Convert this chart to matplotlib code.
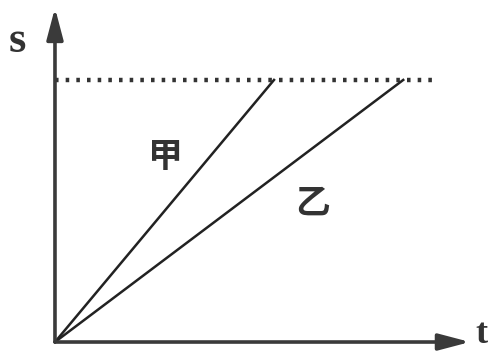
import matplotlib
matplotlib.use("Agg")
import matplotlib.pyplot as plt

# data (t at which each object reaches distance s_max)
s_max = 1.0
labels = ["甲", "乙"]
t_end = [1.0, 1.59]

fig = plt.figure(figsize=(4.88, 3.58), dpi=100)
ax = fig.add_axes([0, 0, 1, 1])
ax.set_xlim(-0.251, 1.977)
ax.set_ylim(-0.061, 1.305)
ax.axis("off")

# axes with arrows
style = "-|>,head_length=1.9,head_width=0.5"
ax.annotate("", xy=(1.895, 0), xytext=(0, 0),
            arrowprops=dict(arrowstyle=style, color="#3a3a3a", lw=2.6, shrinkA=0, shrinkB=0))
ax.annotate("", xy=(0, 1.275), xytext=(0, 0),
            arrowprops=dict(arrowstyle=style, color="#3a3a3a", lw=2.6, shrinkA=0, shrinkB=0))

# dotted level line
ax.plot([0.0, 1.72], [s_max, s_max], color="#333333", lw=3.2, linestyle=(0, (0.8, 1.6)), solid_capstyle="butt")

# the two straight lines
for t in t_end:
    ax.plot([0, t], [0, s_max], color="#222222", lw=1.8)

ax.text(0.502, 0.706, labels[0], fontsize=25, family="Noto Sans CJK SC", weight="bold",
        ha="center", va="center", color="#333333")
ax.text(1.178, 0.53, labels[1], fontsize=25, family="Noto Sans CJK SC", weight="bold",
        ha="center", va="center", color="#333333")

ax.text(-0.17, 1.15, "s", fontsize=32, family="Liberation Serif", weight="bold",
        ha="center", va="center", color="#333333")
ax.text(1.918, 0.03, "t", fontsize=26, family="Liberation Serif", weight="bold",
        ha="left", va="center", color="#333333")

fig.savefig("out.png", dpi=100)
